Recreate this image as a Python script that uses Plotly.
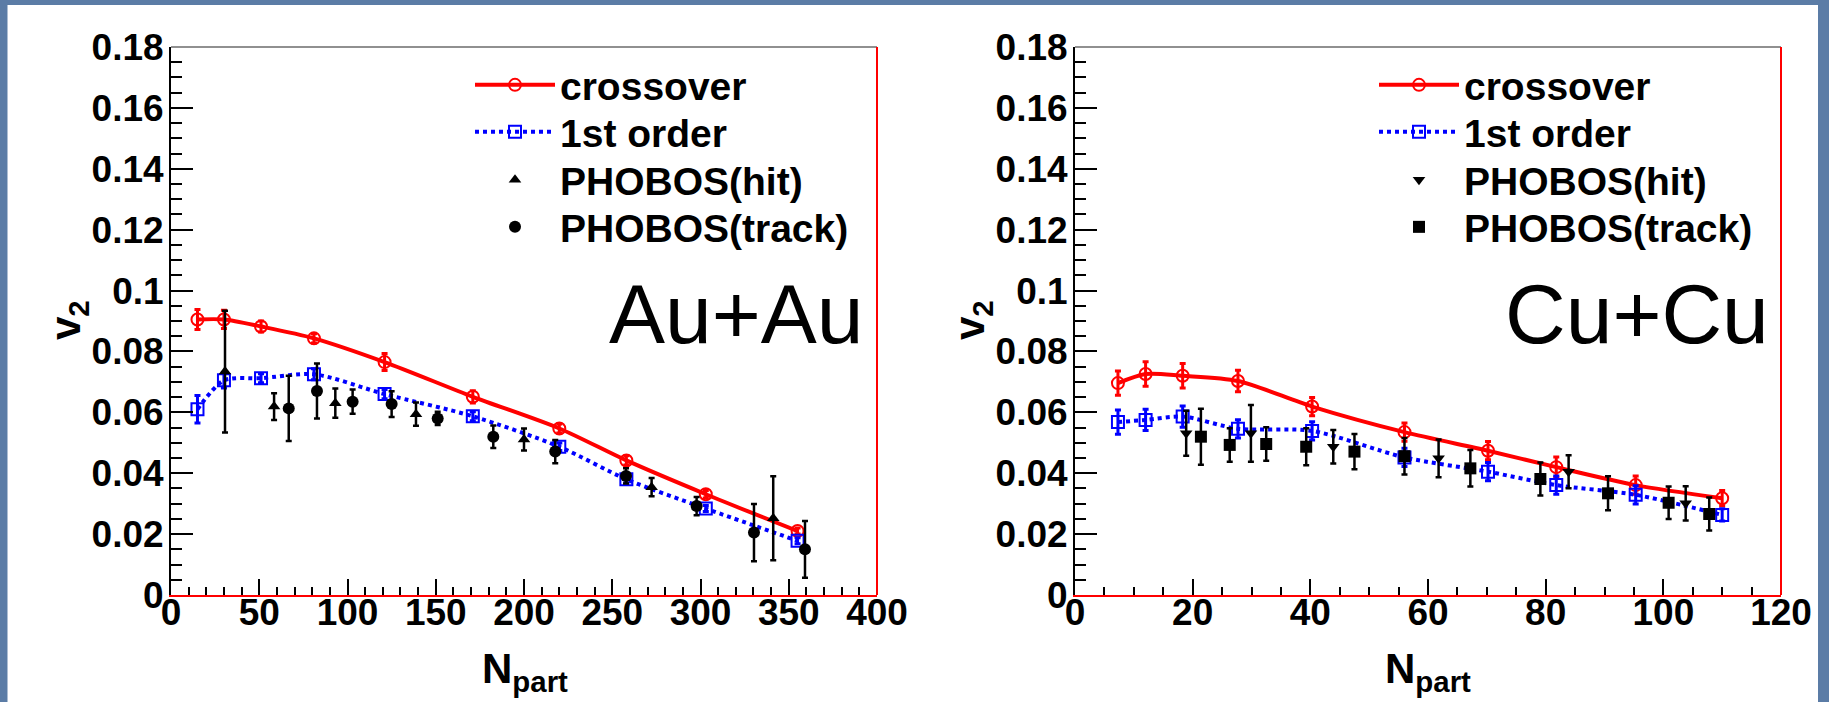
import plotly.graph_objects as go

# ---- Au+Au : hydro model curves ----
au_npart = [15, 30, 51, 81, 121, 171, 220, 258, 303, 355]
au_cross = [0.0905, 0.0905, 0.0882, 0.0843, 0.0765, 0.0651, 0.0547, 0.0442, 0.0331, 0.0210]
au_cross_err = [0.0033, 0.0030, 0.0018, 0.0015, 0.0028, 0.0020, 0.0015, 0.0015, 0.0012, 0.0010]
au_first = [0.0610, 0.0705, 0.0712, 0.0725, 0.0660, 0.0587, 0.0487, 0.0380, 0.0284, 0.0178]
au_first_err = [0.0045, 0.0025, 0.0015, 0.0018, 0.0015, 0.0015, 0.0012, 0.0012, 0.0010, 0.0010]

# ---- Au+Au : PHOBOS data ----
au_hit_npart = [30.6, 58.4, 93.1, 138.8, 200.0, 272.3, 341.2]
au_hit_v2 = [0.0734, 0.0619, 0.0630, 0.0594, 0.0511, 0.0354, 0.0252]
au_hit_err = [0.0200, 0.0044, 0.0048, 0.0038, 0.0036, 0.0030, 0.0138]
au_trk_npart = [66.7, 82.7, 102.9, 125.0, 151.1, 182.6, 217.7, 257.8, 297.8, 330.3, 359.2]
au_trk_v2 = [0.0613, 0.0670, 0.0635, 0.0627, 0.0580, 0.0520, 0.0471, 0.0391, 0.0292, 0.0205, 0.0150]
au_trk_err = [0.0107, 0.0090, 0.0040, 0.0042, 0.0022, 0.0037, 0.0038, 0.0025, 0.0030, 0.0094, 0.0093]

# ---- Cu+Cu : hydro model curves ----
cu_npart = [7.3, 12.0, 18.3, 27.7, 40.3, 56.0, 70.2, 81.8, 95.3, 110.0]
cu_cross = [0.0696, 0.0726, 0.0720, 0.0703, 0.0619, 0.0535, 0.0474, 0.0420, 0.0361, 0.0318]
cu_cross_err = [0.0040, 0.0040, 0.0040, 0.0035, 0.0030, 0.0030, 0.0030, 0.0033, 0.0030, 0.0025]
cu_first = [0.0568, 0.0575, 0.0586, 0.0546, 0.0539, 0.0452, 0.0405, 0.0361, 0.0329, 0.0263]
cu_first_err = [0.0040, 0.0035, 0.0035, 0.0030, 0.0030, 0.0030, 0.0030, 0.0030, 0.0030, 0.0020]

# ---- Cu+Cu : PHOBOS data ----
cu_hit_npart = [18.9, 29.9, 43.9, 61.8, 83.9, 103.8]
cu_hit_v2 = [0.0531, 0.0531, 0.0487, 0.0449, 0.0405, 0.0301]
cu_hit_err = [0.0074, 0.0093, 0.0055, 0.0062, 0.0054, 0.0056]
cu_trk_npart = [21.4, 26.3, 32.5, 39.3, 47.5, 56.0, 67.2, 79.1, 90.6, 100.9, 107.8]
cu_trk_v2 = [0.0520, 0.0493, 0.0496, 0.0487, 0.0471, 0.0456, 0.0416, 0.0381, 0.0334, 0.0303, 0.0266]
cu_trk_err = [0.0092, 0.0055, 0.0055, 0.0061, 0.0058, 0.0060, 0.0060, 0.0054, 0.0056, 0.0053, 0.0054]

y_ticks = [0, 0.02, 0.04, 0.06, 0.08, 0.1, 0.12, 0.14, 0.16, 0.18]
y_tick_text = ["0", "0.02", "0.04", "0.06", "0.08", "0.1", "0.12", "0.14", "0.16", "0.18"]
legend_names = ["crossover", "1st order", "PHOBOS(hit)", "PHOBOS(track)"]
system_labels = ["Au+Au", "Cu+Cu"]

W, H = 1829, 702
FONT = "Liberation Sans"
RED = "#ff0000"
BLUE = "#0000ff"

# pixel positions of the two frames and of the legend rows
FRAME_X = [(171, 877), (1075, 1781)]
FRAME_Y = (47, 595)
LEGEND_X = [470, 1374]
LEGEND_ROWS = [85, 132, 180, 227]


def px_x(p):
    return p / W


def px_y(p):
    return 1 - p / H


fig = go.Figure()


def add_panel(xa, ya, legends, npart, cross, cross_err, first, first_err,
              hx, hy, herr, hsym, tx, ty, terr, tsym):
    fig.add_trace(go.Scatter(
        x=npart, y=cross, name=legend_names[0], xaxis=xa, yaxis=ya, legend=legends[0],
        mode="lines+markers", line=dict(color=RED, width=4, shape="spline", smoothing=0.8),
        marker=dict(symbol="circle-open", size=12, color=RED, line=dict(width=2, color=RED)),
        error_y=dict(type="data", array=cross_err, color=RED, thickness=3, width=3)))
    fig.add_trace(go.Scatter(
        x=npart, y=first, name=legend_names[1], xaxis=xa, yaxis=ya, legend=legends[1],
        mode="lines+markers", line=dict(color=BLUE, width=4, dash="dot", shape="spline", smoothing=0.8),
        marker=dict(symbol="square-open", size=12, color=BLUE, line=dict(width=2, color=BLUE)),
        error_y=dict(type="data", array=first_err, color=BLUE, thickness=3, width=3)))
    fig.add_trace(go.Scatter(
        x=hx, y=hy, name=legend_names[2], xaxis=xa, yaxis=ya, legend=legends[2],
        mode="markers", marker=dict(symbol=hsym, size=11, color="black"),
        error_y=dict(type="data", array=herr, color="black", thickness=2.5, width=3)))
    fig.add_trace(go.Scatter(
        x=tx, y=ty, name=legend_names[3], xaxis=xa, yaxis=ya, legend=legends[3],
        mode="markers", marker=dict(symbol=tsym, size=12, color="black"),
        error_y=dict(type="data", array=terr, color="black", thickness=2.5, width=3)))


left_legends = ["legend", "legend2", "legend3", "legend4"]
right_legends = ["legend5", "legend6", "legend7", "legend8"]

add_panel("x", "y", left_legends, au_npart, au_cross, au_cross_err, au_first, au_first_err,
          au_hit_npart, au_hit_v2, au_hit_err, "triangle-up",
          au_trk_npart, au_trk_v2, au_trk_err, "circle")
add_panel("x2", "y2", right_legends, cu_npart, cu_cross, cu_cross_err, cu_first, cu_first_err,
          cu_hit_npart, cu_hit_v2, cu_hit_err, "triangle-down",
          cu_trk_npart, cu_trk_v2, cu_trk_err, "square")

tick_font = dict(family=FONT, size=37, color="black", weight="bold")
y_dom = [px_y(FRAME_Y[1]), px_y(FRAME_Y[0])]


def x_axis(frame, rng, dtick, minor_dtick, anchor):
    return dict(domain=[px_x(frame[0]), px_x(frame[1])], range=rng, dtick=dtick, tick0=0,
                anchor=anchor, showgrid=False, zeroline=False, automargin=False,
                showline=True, linecolor=RED, linewidth=2, mirror=False,
                ticks="inside", ticklen=16, tickwidth=1.5, tickcolor="black",
                minor=dict(ticks="inside", dtick=minor_dtick, tick0=0, ticklen=8,
                           tickwidth=1.5, tickcolor="black", showgrid=False),
                tickfont=tick_font, ticklabelstandoff=-16)


def y_axis(anchor):
    return dict(domain=y_dom, range=[0, 0.18], anchor=anchor, tickvals=y_ticks, ticktext=y_tick_text,
                showgrid=False, zeroline=False, automargin=False,
                showline=True, linecolor="black", linewidth=2,
                ticks="inside", ticklen=22, tickwidth=1.5, tickcolor="black",
                minor=dict(ticks="inside", dtick=0.005, tick0=0, ticklen=11,
                           tickwidth=1.5, tickcolor="black", showgrid=False),
                tickfont=tick_font, ticklabelstandoff=-2)


legend_common = dict(font=dict(family=FONT, size=39, color="black", weight="bold"),
                     bgcolor="rgba(0,0,0,0)", borderwidth=0, itemwidth=80,
                     xref="container", yref="container",
                     xanchor="left", yanchor="middle")

legend_layout = {}
for names, lx in ((left_legends, LEGEND_X[0]), (right_legends, LEGEND_X[1])):
    for name, row in zip(names, LEGEND_ROWS):
        legend_layout[name] = dict(x=px_x(lx), y=px_y(row), **legend_common)

fig.update_layout(
    width=W, height=H, margin=dict(l=0, r=0, t=0, b=0, autoexpand=False),
    paper_bgcolor="#5b7ca6", plot_bgcolor="white",
    xaxis=x_axis(FRAME_X[0], [0, 400], 50, 10, "y"),
    yaxis=y_axis("x"),
    xaxis2=x_axis(FRAME_X[1], [0, 120], 20, 5, "y2"),
    yaxis2=y_axis("x2"),
    showlegend=True,
    **legend_layout,
)

# white slide panel behind the two plots
fig.add_shape(type="rect", xref="paper", yref="paper", x0=px_x(7.5), x1=px_x(1818),
              y0=-0.01, y1=px_y(5), fillcolor="white", line=dict(width=0), layer="below")

# frame: dark top edge, red right edge
for xd, yd in (("x domain", "y domain"), ("x2 domain", "y2 domain")):
    fig.add_shape(type="line", xref=xd, yref=yd, x0=0, x1=1, y0=1, y1=1,
                  line=dict(color="#222222", width=1.2))
    fig.add_shape(type="line", xref=xd, yref=yd, x0=1, x1=1, y0=0, y1=1,
                  line=dict(color=RED, width=2))

title_font = dict(family=FONT, size=42, color="black")
for cx in (68, 972):
    fig.add_annotation(x=px_x(cx), y=px_y(320), xref="paper", yref="paper",
                       text="<b>v<sub>2</sub></b>", textangle=-90, showarrow=False,
                       xanchor="center", yanchor="middle", font=title_font)
for cx in (525, 1428):
    fig.add_annotation(x=px_x(cx), y=px_y(671), xref="paper", yref="paper",
                       text="<b>N<sub>part</sub></b>", showarrow=False,
                       xanchor="center", yanchor="middle", font=title_font)

for lx, label in ((607, system_labels[0]), (1503, system_labels[1])):
    fig.add_annotation(x=px_x(lx), y=px_y(314), xref="paper", yref="paper",
                       text=label, showarrow=False, xanchor="left", yanchor="middle",
                       font=dict(family=FONT, size=84, color="black"))

fig.write_html("out.html")
